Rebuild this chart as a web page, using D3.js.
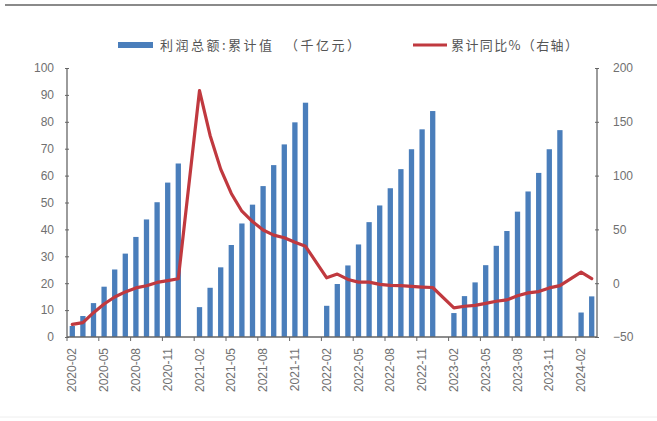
<!DOCTYPE html>
<html><head><meta charset="utf-8">
<script src="https://cdn.jsdelivr.net/npm/d3@7/dist/d3.min.js"></script>
<style>body{margin:0;background:#fff;}svg{display:block;font-family:"Noto Sans CJK SC","Noto Sans",sans-serif;}</style>
</head><body><svg id="c" width="657" height="421"></svg>
<script>
const categories = [
"2020-02","2020-03","2020-04","2020-05","2020-06","2020-07","2020-08","2020-09","2020-10","2020-11","2020-12",
"2021-01","2021-02","2021-03","2021-04","2021-05","2021-06","2021-07","2021-08","2021-09","2021-10","2021-11","2021-12",
"2022-01","2022-02","2022-03","2022-04","2022-05","2022-06","2022-07","2022-08","2022-09","2022-10","2022-11","2022-12",
"2023-01","2023-02","2023-03","2023-04","2023-05","2023-06","2023-07","2023-08","2023-09","2023-10","2023-11","2023-12",
"2024-01","2024-02","2024-03"];
const profitCum = [
4.1,7.8,12.6,18.7,25.1,31.0,37.2,43.7,50.1,57.4,64.5,
null,11.1,18.3,25.9,34.2,42.2,49.2,56.1,63.9,71.6,79.8,87.1,
null,11.6,19.7,26.6,34.4,42.7,48.9,55.3,62.4,69.8,77.2,84.0,
null,8.9,15.2,20.3,26.7,33.9,39.4,46.6,54.1,61.0,69.8,76.9,
null,9.1,15.1];
const yoyCum = [
-38.3,-36.7,-27.4,-19.3,-12.8,-8.1,-4.4,-2.4,0.7,2.4,4.1,
null,178.9,137.3,106.0,83.4,66.9,57.3,49.5,44.7,42.2,38.0,34.3,
null,5.0,8.5,3.5,1.0,1.0,-1.1,-2.1,-2.3,-3.0,-3.6,-4.0,
null,-22.9,-21.4,-20.6,-18.8,-16.8,-15.5,-11.7,-9.0,-7.8,-4.4,-2.3,
null,10.2,4.3];
const leftTicks = [0,10,20,30,40,50,60,70,80,90,100];
const rightTicks = [-50,0,50,100,150,200];
const legendLabels = ["利润总额:累计值  （千亿元）","累计同比%（右轴）"];

const svg = d3.select("#c");
const L = 67, R = 597, T = 68, B = 337;
const barColor = "#4a7ebb", lineColor = "#c0393f", axisColor = "#666", textColor = "#707070";

// top border
svg.append("line").attr("x1",5).attr("x2",657).attr("y1",5).attr("y2",5).attr("stroke","#8a8a8a").attr("stroke-width",2);
svg.append("line").attr("x1",0).attr("x2",657).attr("y1",417).attr("y2",417).attr("stroke","#eee").attr("stroke-width",1);

const x = d3.scaleBand().domain(categories).range([L,R]).padding(0);
const yL = d3.scaleLinear().domain([0,100]).range([B,T]);
const yR = d3.scaleLinear().domain([-50,200]).range([B,T]);

// bars
const bw = x.bandwidth()*0.5;
svg.append("g").selectAll("rect").data(categories.map((c,i)=>({c,v:profitCum[i]})).filter(d=>d.v!=null))
 .join("rect").attr("x",d=>x(d.c)+(x.bandwidth()-bw)/2).attr("width",bw)
 .attr("y",d=>yL(d.v)).attr("height",d=>yL(0)-yL(d.v)).attr("fill",barColor);

// line (connect defined points across gaps)
const pts = categories.map((c,i)=>({c,v:yoyCum[i]})).filter(d=>d.v!=null);
svg.append("path").datum(pts).attr("fill","none").attr("stroke",lineColor).attr("stroke-width",3.2)
 .attr("stroke-linejoin","round").attr("stroke-linecap","round")
 .attr("d",d3.line().x(d=>x(d.c)+x.bandwidth()/2).y(d=>yR(d.v)));

// left axis
const gL = svg.append("g").attr("transform",`translate(${L},0)`)
 .call(d3.axisLeft(yL).tickValues(leftTicks).tickSize(3).tickPadding(10));
gL.selectAll(".tick line").attr("x2",-2).attr("x1",2);
// right axis
const gR = svg.append("g").attr("transform",`translate(${R},0)`)
 .call(d3.axisRight(yR).tickValues(rightTicks).tickSize(3).tickPadding(13));
gR.selectAll(".tick line").attr("x1",-2).attr("x2",2);
[gL,gR].forEach(g=>{
  g.select(".domain").attr("stroke",axisColor).attr("stroke-width",1.3).attr("d", `M0,${T}V${B}`);
  g.selectAll(".tick line").attr("stroke",axisColor);
  g.selectAll("text").attr("fill",textColor).style("font-size","12px").style("font-family","'Liberation Sans','DejaVu Sans',sans-serif");
});

// x axis
const labelCats = categories.filter((c,i)=>i%3===0);
const gX = svg.append("g").attr("transform",`translate(0,${B})`);
gX.append("line").attr("x1",L).attr("x2",R).attr("y1",0).attr("y2",0).attr("stroke",axisColor).attr("stroke-width",1.3);
gX.selectAll("line.t").data(labelCats).join("line").attr("class","t")
 .attr("x1",d=>x(d)).attr("x2",d=>x(d)).attr("y1",0).attr("y2",4).attr("stroke",axisColor);
gX.selectAll("text").data(labelCats).join("text")
 .attr("transform",d=>`translate(${x(d)+x.bandwidth()/2+4},11) rotate(-90)`)
 .attr("text-anchor","end").attr("fill",textColor)
 .style("font-size","12px").style("font-family","'Liberation Sans','DejaVu Sans',sans-serif")
 .text(d=>d);

// legend
const lg = svg.append("g");
lg.append("rect").attr("x",118).attr("y",42).attr("width",35).attr("height",6).attr("fill",barColor);
lg.append("text").attr("x",160).attr("y",50).attr("fill","#555").style("font-size","13px")
 .attr("xml:space","preserve").attr("textLength",200).attr("lengthAdjust","spacing").text(legendLabels[0]);
lg.append("line").attr("x1",413).attr("x2",447).attr("y1",45).attr("y2",45).attr("stroke",lineColor).attr("stroke-width",3);
lg.append("text").attr("x",451).attr("y",50).attr("fill","#555").style("font-size","13px")
 .attr("textLength",127).attr("lengthAdjust","spacing").text(legendLabels[1]);
</script></body></html>
